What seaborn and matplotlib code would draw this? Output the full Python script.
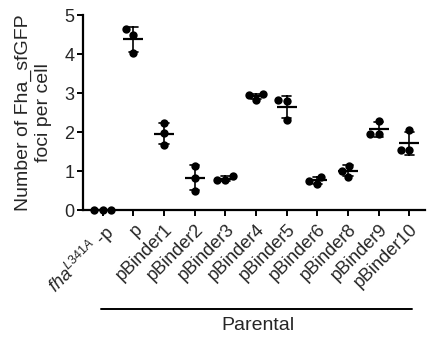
import numpy as np
import pandas as pd
import seaborn as sns
import matplotlib
matplotlib.use('Agg')
from matplotlib import pyplot as plt
from matplotlib import transforms as mtrans
from matplotlib import lines as mlines

# strain labels (x categories)
strains = [r'$\mathit{fha}^{\mathit{L341A}}$ -p', 'p', 'pBinder1', 'pBinder2', 'pBinder3',
           'pBinder4', 'pBinder5', 'pBinder6', 'pBinder8', 'pBinder9', 'pBinder10']

# foci per cell, three replicates each
fha_p = [0.0, 0.0, 0.0]
p = [4.63, 4.50, 4.02]
pBinder1 = [2.22, 1.98, 1.67]
pBinder2 = [1.14, 0.83, 0.50]
pBinder3 = [0.88, 0.76, 0.77]
pBinder4 = [2.97, 2.94, 2.83]
pBinder5 = [2.82, 2.79, 2.32]
pBinder6 = [0.86, 0.75, 0.67]
pBinder8 = [1.14, 1.01, 0.86]
pBinder9 = [2.29, 1.96, 1.95]
pBinder10 = [2.05, 1.55, 1.53]

reps = [fha_p, p, pBinder1, pBinder2, pBinder3, pBinder4,
        pBinder5, pBinder6, pBinder8, pBinder9, pBinder10]

df = pd.DataFrame({'strain': np.repeat(strains, 3),
                   'foci': np.concatenate(reps)})

sns.set_style('ticks')
plt.rcParams['font.family'] = ['Liberation Sans', 'DejaVu Sans']
plt.rcParams['mathtext.fontset'] = 'custom'
plt.rcParams['mathtext.rm'] = 'Liberation Sans'
plt.rcParams['mathtext.it'] = 'Liberation Sans:italic'

fig = plt.figure(figsize=(4.29, 3.41), dpi=100)
ax = fig.add_axes([0.193, 0.384, 0.797, 0.572])

sns.swarmplot(data=df, x='strain', y='foci', order=strains, color='black',
              size=6, ax=ax, zorder=3)
sns.pointplot(data=df, x='strain', y='foci', order=strains, errorbar='sd',
              capsize=0.3, color='black', linestyle='none', marker='_',
              markersize=15, markeredgewidth=1.6,
              err_kws={'linewidth': 1.2}, ax=ax)
for c in ax.collections:
    c.set_clip_on(False)
for l in ax.lines:
    l.set_clip_on(False)

ax.set_xlim(-0.65, 10.5)
ax.set_ylim(0, 5)
ax.set_yticks([0, 1, 2, 3, 4, 5])
ax.set_xlabel('')
ax.set_ylabel('Number of Fha_sfGFP\nfoci per cell', fontsize=14, labelpad=9)
ax.tick_params(axis='y', labelsize=13, length=4, width=1.4, color='black', pad=2)
ax.tick_params(axis='x', labelsize=13, length=4, width=1.4, color='black', pad=4)
ax.set_xticks(range(len(strains)))
ax.set_xticklabels(strains, rotation=45, ha='right', rotation_mode='anchor')
for side in ['top', 'right']:
    ax.spines[side].set_visible(False)
for side in ['left', 'bottom']:
    ax.spines[side].set_linewidth(1.6)
    ax.spines[side].set_color('black')

# bracket under the parental strains
trans = mtrans.blended_transform_factory(ax.transData, fig.transFigure)
fig.add_artist(mlines.Line2D([-0.07, 10.1], [0.094, 0.094], transform=trans,
                             color='black', linewidth=1.4))
fig.text(5.05, 0.045, 'Parental', transform=trans, ha='center', va='center',
         fontsize=14)

fig.savefig('out.png', dpi=100)
